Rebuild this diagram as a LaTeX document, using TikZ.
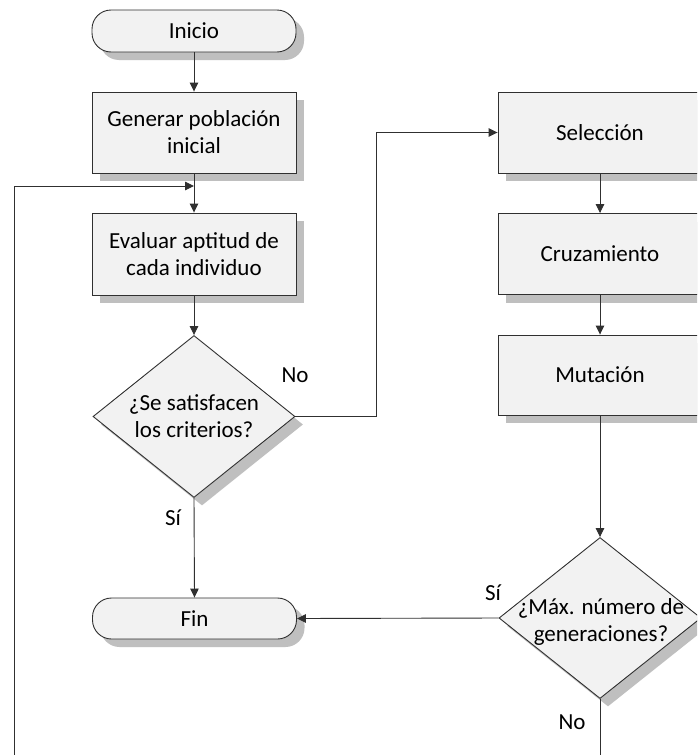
\documentclass[tikz,border=0pt]{standalone}
\usepackage{fontspec}
\setmainfont{Carlito}
\usetikzlibrary{shapes.geometric,shadows,arrows.meta}
\definecolor{boxfill}{HTML}{F2F2F2}
\definecolor{shadowgray}{HTML}{BFBFBF}
\definecolor{linegray}{HTML}{303030}
\begin{document}
\begin{tikzpicture}[x=1pt,y=-1pt,
  font=\fontsize{23}{27}\selectfont,
  shad/.style={drop shadow={shadow xshift=8pt,shadow yshift=-8pt,fill=shadowgray,opacity=1}},
  procbox/.style={draw=linegray,line width=0.9pt,fill=boxfill,shad,minimum width=204pt,inner sep=0pt,align=center},
  termbox/.style={procbox,rounded corners=19pt,minimum height=42pt},
  decbox/.style={diamond,draw=linegray,line width=0.9pt,fill=boxfill,shad,minimum width=202pt,minimum height=162pt,inner sep=0pt},
  txt/.style={align=center,inner sep=0pt},
  conn/.style={draw=linegray,line width=0.9pt},
  arr/.style={conn,-{Triangle[length=9pt,width=8.5pt]}},
  lbl/.style={inner sep=0pt}]
\useasboundingbox (0,0) rectangle (697,755);
\clip (0,0) rectangle (697,755);
\fill[white] (0,0) rectangle (697,755);
% left column
\node[termbox] (inicio) at (194,31) {Inicio};
\node[procbox,minimum height=81pt] (gen) at (194,132.5) {Generar población\\inicial};
\node[procbox,minimum height=82pt] (eval) at (194,254) {Evaluar aptitud de\\cada individuo};
\node[decbox] (d1) at (194,416.5) {};
\node[txt] (d1t) at (194,416.5) {¿Se satisfacen\\los criterios?};
\node[termbox,minimum height=41pt] (fin) at (194.5,618.5) {Fin};
% right column
\node[procbox,minimum height=81pt] (sel) at (600,132.5) {Selección};
\node[procbox,minimum height=81pt] (cru) at (600,254) {Cruzamiento};
\node[procbox,minimum height=80pt] (mut) at (600,375) {Mutación};
\node[decbox,minimum height=161pt] (d2) at (600,618) {};
\node[txt] (d2t) at (601,622) {¿Máx. número de\\generaciones?};
% helper coordinates
\coordinate (j) at (194,186);
\coordinate (bl) at (14,790);
\coordinate (k) at (376,416.5);
% connectors
\draw[arr] (inicio) -- (gen);
\draw[conn] (gen.south) -- (j);
\draw[arr] (j) -- (eval.north);
\draw[arr] (d2.south) |- (bl) |- (j);
\draw[arr] (eval) -- (d1.north);
\draw[arr] (d1.east) -- (k) |- (sel.west);
\draw[arr] (d1.south) -- (fin.north);
\draw[arr] (sel) -- (cru);
\draw[arr] (cru) -- (mut);
\draw[arr] (mut) -- (d2.north);
\draw[arr] (d2.west) -- (fin.east);
% labels
\node[lbl] (no1) at (295,375) {No};
\node[lbl] (si1) at (173,518) {Sí};
\node[lbl] (si2) at (493,593) {Sí};
\node[lbl] (no2) at (572,722) {No};
\end{tikzpicture}
\end{document}
